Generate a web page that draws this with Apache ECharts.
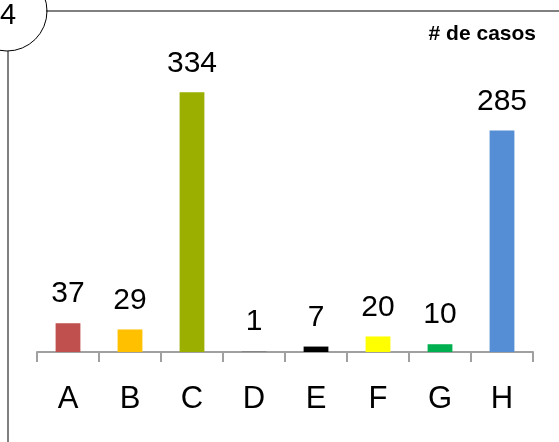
<!DOCTYPE html>
<html>
<head>
<meta charset="utf-8">
<script src="https://cdn.jsdelivr.net/npm/echarts@6/dist/echarts.min.js"></script>
<style>
  html, body { margin: 0; padding: 0; background: #fff; }
  #chart { width: 559px; height: 442px; }
</style>
</head>
<body>
<div id="chart"></div>
<script>
// datos
const categories = ['A', 'B', 'C', 'D', 'E', 'F', 'G', 'H']
const casos = [37, 29, 334, 1, 7, 20, 10, 285]
const colores = ['#C0504D', '#FFC000', '#9BAF00', '#7F7F7F', '#000000', '#FFFF00', '#00B050', '#558ED5']

const chart = echarts.init(document.getElementById('chart'))

const options = {
    animation: false,
    textStyle: { fontFamily: 'Liberation Sans, Arial, sans-serif' },
    grid: { left: 37, right: 26, top: 41, bottom: 90 },
    // marco: circulo con numero y lineas
    graphic: [
        {
            type: 'line',
            shape: { x1: 46, y1: 11, x2: 559, y2: 11 },
            style: { stroke: '#808080', lineWidth: 2 }
        },
        {
            type: 'line',
            shape: { x1: 8, y1: 51, x2: 8, y2: 442 },
            style: { stroke: '#808080', lineWidth: 2 }
        },
        {
            type: 'circle',
            shape: { cx: 7, cy: 11, r: 40 },
            style: { fill: 'none', stroke: '#000', lineWidth: 1 }
        },
        {
            type: 'text',
            x: 8, y: 16,
            style: {
                text: '4', fontSize: 29, fill: '#000',
                fontFamily: 'Liberation Sans, Arial, sans-serif',
                align: 'center', verticalAlign: 'middle'
            }
        },
        {
            type: 'text',
            x: 536, y: 34,
            style: {
                text: '# de casos', fontSize: 21, fontWeight: 'bold', fill: '#000',
                fontFamily: 'Liberation Sans, Arial, sans-serif',
                align: 'right', verticalAlign: 'middle'
            }
        }
    ],
    xAxis: {
        type: 'category',
        data: categories,
        axisLine: { lineStyle: { color: '#A0A0A0', width: 2 } },
        axisTick: { show: true, length: 10, lineStyle: { color: '#A0A0A0', width: 2 } },
        axisLabel: { color: '#000', fontSize: 31, margin: 32 }
    },
    yAxis: {
        type: 'value',
        min: 0,
        max: 400,
        show: false,
        splitLine: { show: false }
    },
    series: [
        {
            type: 'bar',
            barWidth: '40%',
            data: casos.map((v, i) => ({ value: v, itemStyle: { color: colores[i] } })),
            label: {
                show: true,
                position: 'top',
                distance: 14,
                color: '#000',
                fontSize: 30
            }
        }
    ]
}

chart.setOption(options)
</script>
</body>
</html>
